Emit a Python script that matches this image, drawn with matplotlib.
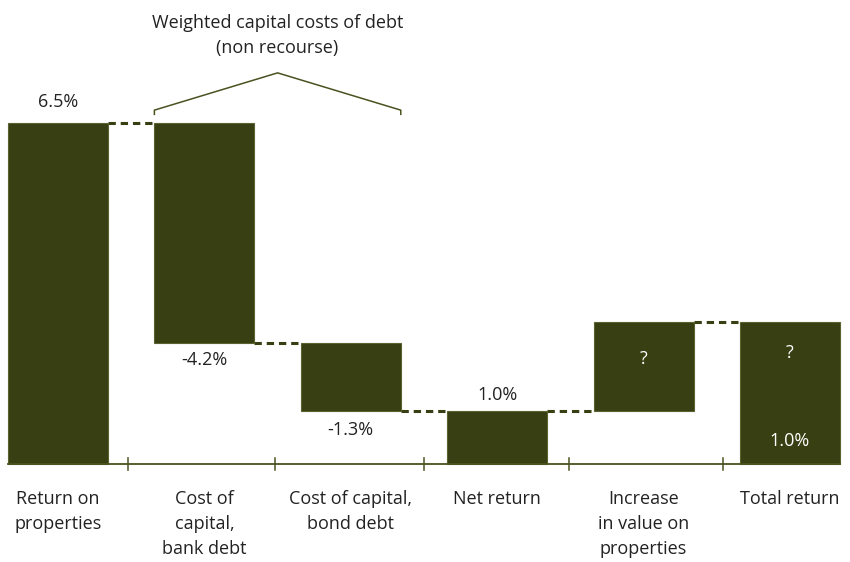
import matplotlib
matplotlib.use("Agg")
import matplotlib.pyplot as plt
import numpy as np

plt.rcParams['font.family'] = ['Open Sans', 'DejaVu Sans']

# Waterfall data (percent)
categories = ["Return on\nproperties", "Cost of\ncapital,\nbank debt",
              "Cost of capital,\nbond debt", "Net return",
              "Increase\nin value on\nproperties", "Total return"]
changes = [6.5, -4.2, -1.3, None, 1.7, None]   # None = subtotal bar
value_labels = ["6.5%", "-4.2%", "-1.3%", "1.0%", "?", "?"]
extra_label = "1.0%"   # known part of total return
bracket_title = "Weighted capital costs of debt\n(non recourse)"

BAR = "#373f13"
LINE = "#4b5220"
TXT = "#222222"

fig = plt.figure(figsize=(8.5, 5.62), dpi=100)
ax = fig.add_axes([0, 0, 1, 1])
ax.set_xlim(-0.396, 5.41)
ax.set_ylim(-1.867, 8.838)
ax.axis("off")

width = 0.683
x = np.arange(len(categories))

# compute bottoms / heights
bottoms, heights = [], []
running = 0.0
for c in changes:
    if c is None:
        bottoms.append(0.0)
        heights.append(running)
    else:
        if c >= 0:
            bottoms.append(running)
            heights.append(c)
        else:
            bottoms.append(running + c)
            heights.append(-c)
        running += c

ax.bar(x, heights, bottom=bottoms, width=width, color=BAR,
       edgecolor="#5a6230", linewidth=0.8, zorder=3)

# dashed connectors between consecutive bars
levels = [b + h for b, h in zip(bottoms, heights)]
ends = []
running = 0.0
for c in changes:
    if c is not None:
        running += c
    ends.append(running)
for i in range(len(x) - 1):
    lvl = ends[i]
    ax.plot([x[i] + width / 2, x[i + 1] - width / 2], [lvl, lvl],
            color=BAR, lw=2.2, ls=(0, (2.4, 1.6)), zorder=2,
            solid_capstyle="butt", dash_capstyle="butt")

# baseline with ticks between bars
ax.plot([x[0] - width / 2, x[-1] + width / 2], [0, 0], color=LINE, lw=1.3, zorder=4)
tick_pos = x[:-1] + 0.5
tick_pos = tick_pos + np.array([-0.02, -0.02, 0.0, -0.01, 0.04])
for t in tick_pos:
    ax.plot([t, t], [-0.12, 0.12], color=LINE, lw=1.1, zorder=4)

fs = 13
# value labels
ax.text(x[0], levels[0] + 0.23, value_labels[0], ha="center", va="bottom", fontsize=fs, color=TXT)
ax.text(x[1], bottoms[1] - 0.15, value_labels[1], ha="center", va="top", fontsize=fs, color=TXT)
ax.text(x[2], bottoms[2] - 0.18, value_labels[2], ha="center", va="top", fontsize=fs, color=TXT)
ax.text(x[3], levels[3] + 0.15, value_labels[3], ha="center", va="bottom", fontsize=fs, color=TXT)
ax.text(x[4], levels[4] - 0.70, value_labels[4], ha="center", va="center", fontsize=fs, color="white")
ax.text(x[5], levels[5] - 0.58, value_labels[5], ha="center", va="center", fontsize=fs, color="white")
ax.text(x[5], 0.44, extra_label, ha="center", va="center", fontsize=fs, color="white")

# category labels
for xi, lab in zip(x, categories):
    ax.text(xi, -0.5, lab, ha="center", va="top", fontsize=fs, color=TXT,
            linespacing=1.5)

# bracket over the two debt-cost bars
xl, xr = x[1] - width / 2, x[2] + width / 2
xm = (x[1] + x[2]) / 2
yb, yt = 6.74, 7.45
ax.plot([xl, xl, xm, xr, xr], [yb - 0.08, yb, yt, yb, yb - 0.08],
        color=LINE, lw=1.1, zorder=4)
ax.text(xm, 8.17, bracket_title, ha="center", va="center", fontsize=fs,
        color=TXT, linespacing=1.5)

fig.savefig("out.png", dpi=100)
